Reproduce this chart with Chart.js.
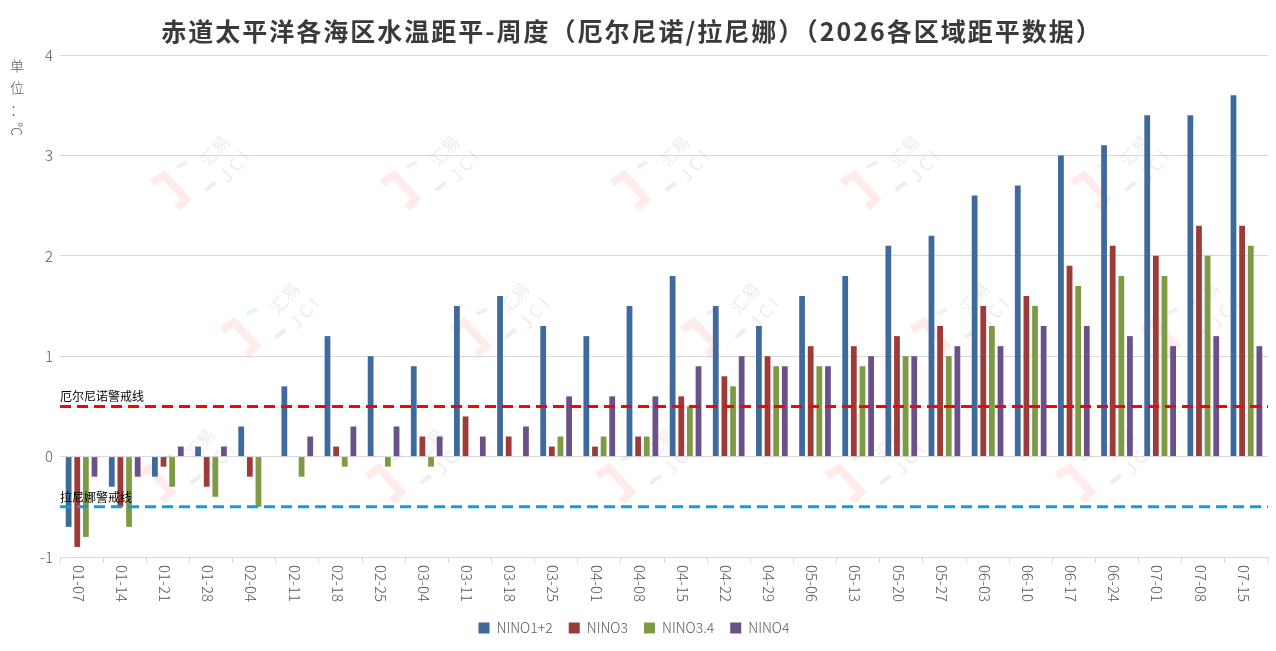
<!DOCTYPE html>
<html>
<head>
<meta charset="utf-8">
<script src="https://cdn.jsdelivr.net/npm/chart.js@4.4.1/dist/chart.umd.min.js"></script>
<style>
html,body{margin:0;padding:0;background:#fff;}
#wrap{width:1276px;height:651px;position:relative;}
</style>
</head>
<body>
<div id="wrap"><canvas id="c" width="1276" height="651"></canvas></div>
<script>
const titleText = '赤道太平洋各海区水温距平-周度（厄尔尼诺/拉尼娜）（2026各区域距平数据）';
const unitLabel = ['单', '位', '：', '℃'];
const categories = ['01-07','01-14','01-21','01-28','02-04','02-11','02-18','02-25','03-04','03-11','03-18','03-25','04-01','04-08','04-15','04-22','04-29','05-06','05-13','05-20','05-27','06-03','06-10','06-17','06-24','07-01','07-08','07-15'];
const seriesNames = ['NINO1+2', 'NINO3', 'NINO3.4', 'NINO4'];
const nino12 = [-0.7,-0.3,-0.2,0.1,0.3,0.7,1.2,1.0,0.9,1.5,1.6,1.3,1.2,1.5,1.8,1.5,1.3,1.6,1.8,2.1,2.2,2.6,2.7,3.0,3.1,3.4,3.4,3.6];
const nino3 = [-0.9,-0.5,-0.1,-0.3,-0.2,0,0.1,0,0.2,0.4,0.2,0.1,0.1,0.2,0.6,0.8,1.0,1.1,1.1,1.2,1.3,1.5,1.6,1.9,2.1,2.0,2.3,2.3];
const nino34 = [-0.8,-0.7,-0.3,-0.4,-0.5,-0.2,-0.1,-0.1,-0.1,0,0,0.2,0.2,0.2,0.5,0.7,0.9,0.9,0.9,1.0,1.0,1.3,1.5,1.7,1.8,1.8,2.0,2.1];
const nino4 = [-0.2,-0.2,0.1,0.1,0,0.2,0.3,0.3,0.2,0.2,0.3,0.6,0.6,0.6,0.9,1.0,0.9,0.9,1.0,1.0,1.1,1.1,1.3,1.3,1.2,1.1,1.2,1.1];
const yTicks = [-1, 0, 1, 2, 3, 4];
const elNinoLevel = 0.5;
const laNinaLevel = -0.5;
const elNinoLabel = '厄尔尼诺警戒线';
const laNinaLabel = '拉尼娜警戒线';

const colors = ['#3F6A9E', '#9E3B39', '#7E9A45', '#6A5189'];
const FONT = '"Noto Sans CJK SC", "Noto Sans", sans-serif';
const GRAY = '#595959';

const watermarks = [
  [190,175],[420,175],[650,175],[880,175],[1110,175],
  [260,322],[490,322],[720,322],[950,322],[1180,322],
  [175,468],[405,468],[635,468],[865,468],[1095,468]
];

const titlePlugin = {
  id: 'ttl',
  afterDraw(chart) {
    const ctx = chart.ctx;
    ctx.save();
    ctx.font = 'bold 25px ' + FONT;
    if ('letterSpacing' in ctx) ctx.letterSpacing = '2px';
    ctx.fillStyle = '#3a3a3a';
    ctx.textAlign = 'center';
    ctx.textBaseline = 'middle';
    ctx.fillText(titleText, 632, 31);
    ctx.restore();
  }
};

const watermarkPlugin = {
  id: 'wm',
  beforeDatasetsDraw(chart) {
    const ctx = chart.ctx;
    ctx.save();
    watermarks.forEach(([cx, cy]) => {
      ctx.lineCap = 'butt';
      ctx.lineJoin = 'miter';
      ctx.strokeStyle = 'rgba(255,60,60,0.10)';
      ctx.lineWidth = 8;
      ctx.beginPath();
      ctx.moveTo(cx - 38, cy + 8);
      ctx.lineTo(cx - 26, cy);
      ctx.lineTo(cx - 4, cy + 24);
      ctx.lineTo(cx - 13, cy + 33);
      ctx.stroke();
      ctx.strokeStyle = 'rgba(40,150,60,0.10)';
      ctx.lineWidth = 4;
      ctx.beginPath();
      ctx.moveTo(cx - 13, cy - 8);
      ctx.lineTo(cx - 3, cy - 13);
      ctx.stroke();
      ctx.fillStyle = 'rgba(120,120,120,0.13)';
      ctx.beginPath();
      ctx.moveTo(cx + 14, cy + 14);
      ctx.lineTo(cx + 24, cy + 6);
      ctx.lineTo(cx + 27, cy + 9);
      ctx.lineTo(cx + 17, cy + 17);
      ctx.closePath();
      ctx.fill();
      ctx.fillStyle = 'rgba(140,140,140,0.17)';
      ctx.font = '17px ' + FONT;
      ctx.textAlign = 'center';
      ctx.textBaseline = 'middle';
      ctx.save();
      ctx.translate(cx + 25, cy - 24);
      ctx.rotate(-Math.PI * 0.27);
      ctx.fillText('汇易', 0, 0);
      ctx.restore();
      ctx.save();
      ctx.translate(cx + 44, cy - 9);
      ctx.rotate(-Math.PI * 0.27);
      ctx.font = '18px ' + FONT;
      ctx.fillText('J C I', 0, 0);
      ctx.restore();
    });
    ctx.restore();
  }
};

const overlayPlugin = {
  id: 'overlay',
  afterDraw(chart) {
    const ctx = chart.ctx;
    const xs = chart.scales.x;
    const ys = chart.scales.y;
    const area = chart.chartArea;
    ctx.save();
    const drawLevel = (val, color, label) => {
      const y = ys.getPixelForValue(val);
      ctx.strokeStyle = color;
      ctx.lineWidth = 3;
      ctx.setLineDash([11, 6]);
      ctx.beginPath();
      ctx.moveTo(area.left, y);
      ctx.lineTo(area.right, y);
      ctx.stroke();
      ctx.setLineDash([]);
      ctx.fillStyle = '#000';
      ctx.font = '12px ' + FONT;
      ctx.textAlign = 'left';
      ctx.textBaseline = 'alphabetic';
      ctx.fillText(label, area.left, y - 5);
    };
    drawLevel(elNinoLevel, '#FF0000', elNinoLabel);
    drawLevel(laNinaLevel, '#129FD6', laNinaLabel);
    ctx.fillStyle = GRAY;
    ctx.font = '300 15px ' + FONT;
    ctx.textAlign = 'left';
    ctx.textBaseline = 'middle';
    categories.forEach((lab, i) => {
      const x = xs.getPixelForValue(i) - 3;
      ctx.save();
      ctx.translate(x, area.bottom + 8);
      ctx.rotate(Math.PI / 2);
      ctx.fillText(lab, 0, 0);
      ctx.restore();
    });
    ctx.font = '300 14px ' + FONT;
    ctx.textAlign = 'center';
    ctx.textBaseline = 'middle';
    const ys0 = [66, 88, 110, 129];
    unitLabel.forEach((ch, i) => {
      ctx.save();
      ctx.translate(17, ys0[i]);
      if (ch === '℃') ctx.rotate(Math.PI / 2);
      ctx.fillText(ch, 0, 0);
      ctx.restore();
    });
    ctx.restore();
  }
};

const datasets = [nino12, nino3, nino34, nino4].map((d, i) => ({
  label: seriesNames[i],
  data: d,
  backgroundColor: colors[i],
  borderWidth: 0,
  categoryPercentage: 0.8,
  barPercentage: 0.67
}));

new Chart(document.getElementById('c'), {
  type: 'bar',
  data: { labels: categories, datasets },
  plugins: [watermarkPlugin, overlayPlugin, titlePlugin],
  options: {
    responsive: false,
    animation: false,
    devicePixelRatio: 1,
    layout: { padding: { left: 0, right: 8, top: 55, bottom: 6 } },
    plugins: {
      title: { display: false },
      legend: {
        display: true,
        position: 'bottom',
        labels: {
          color: GRAY,
          font: { family: FONT, size: 14, weight: '300' },
          boxWidth: 11,
          boxHeight: 11,
          padding: 16
        }
      },
      tooltip: { enabled: false }
    },
    scales: {
      x: {
        offset: true,
        grid: { display: true, drawOnChartArea: false, drawTicks: true, tickLength: 6, offset: true, color: '#D9D9D9' },
        border: { display: true, color: '#D9D9D9' },
        ticks: { display: false },
        afterFit(s) { s.height = 48; }
      },
      y: {
        min: -1,
        max: 4,
        afterBuildTicks(s) { s.ticks = yTicks.map(v => ({ value: v })); },
        grid: { color: '#D9D9D9', drawTicks: false, lineWidth: 1 },
        border: { display: false },
        ticks: { color: GRAY, font: { family: FONT, size: 15, weight: '300' }, padding: 7 },
        afterFit(s) { s.width = 60; }
      }
    }
  }
});
</script>
</body>
</html>
